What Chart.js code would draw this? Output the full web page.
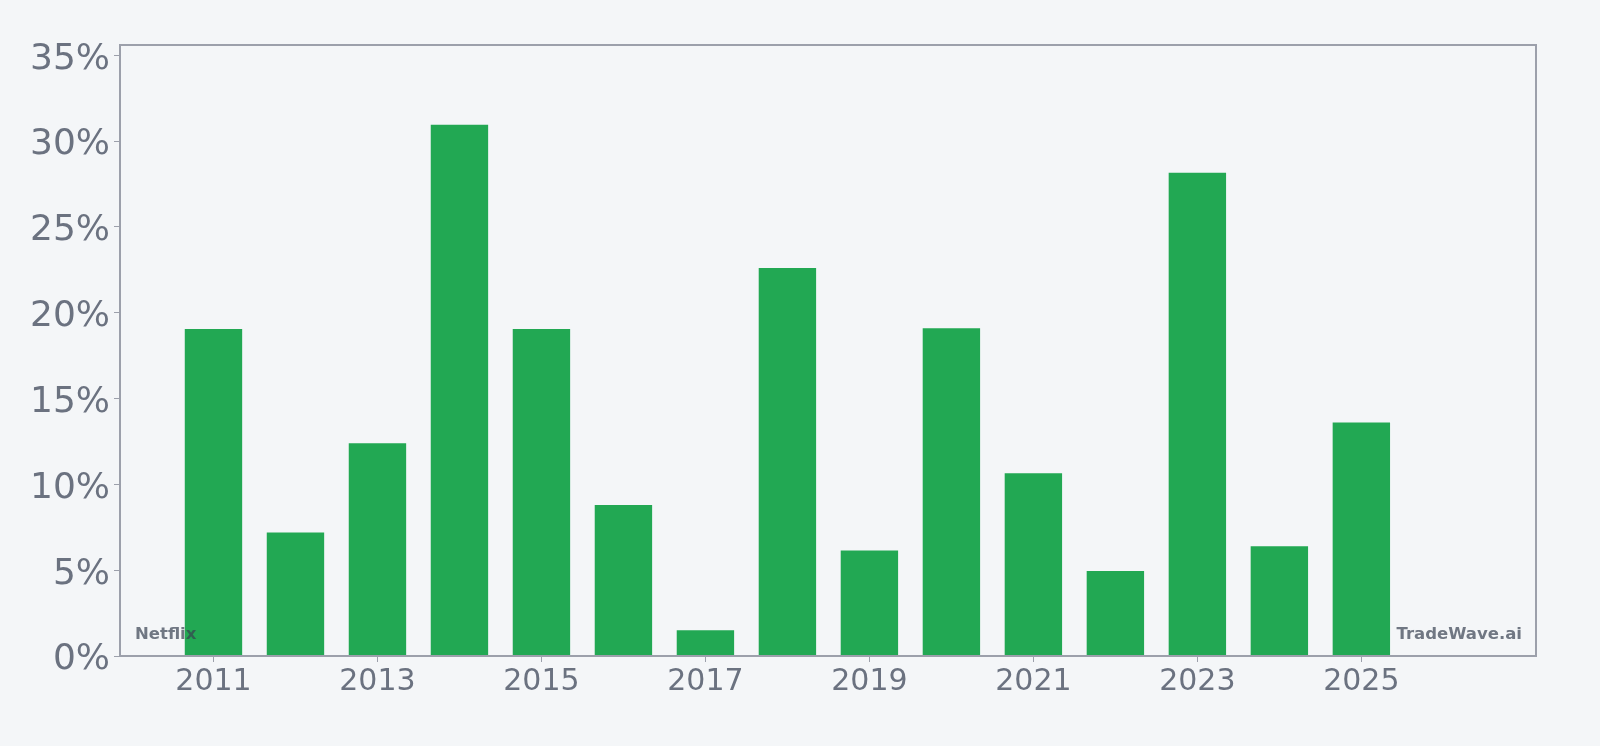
<!DOCTYPE html>
<html>
<head>
<meta charset="utf-8">
<script src="https://cdn.jsdelivr.net/npm/chart.js@4"></script>
<style>
html,body{margin:0;padding:0;background:#f4f6f8;}
#wrap{width:1600px;height:746px;position:relative;}
</style>
</head>
<body>
<div id="wrap"><canvas id="c" width="1600" height="746"></canvas></div>
<script>
const years = [2011,2012,2013,2014,2015,2016,2017,2018,2019,2020,2021,2022,2023,2024,2025];
const values = [19.05,7.2,12.4,30.95,19.05,8.8,1.5,22.6,6.15,19.1,10.65,4.95,28.15,6.4,13.6];
const xTickLabels = [2011,2013,2015,2017,2019,2021,2023,2025];
const yTickValues = [0,5,10,15,20,25,30,35];
const leftNote = "Netflix";
const rightNote = "TradeWave.ai";

const textColor = '#6b7280';
const frameColor = '#9ca0ab';

const framePlugin = {
  id: 'frame',
  afterDatasetsDraw(chart) {
    const {ctx, chartArea: a} = chart;
    ctx.save();
    ctx.fillStyle = 'rgba(55,65,81,0.7)';
    ctx.font = 'bold 16.5px "DejaVu Sans"';
    ctx.textBaseline = 'alphabetic';
    ctx.textAlign = 'left';
    ctx.fillText(leftNote, a.left + 15, a.bottom - 17);
    ctx.textAlign = 'right';
    ctx.fillText(rightNote, a.right - 14, a.bottom - 17);
    ctx.strokeStyle = frameColor;
    ctx.lineWidth = 2;
    ctx.strokeRect(a.left, a.top, a.right - a.left, a.bottom - a.top);
    ctx.restore();
  }
};

new Chart(document.getElementById('c'), {
  type: 'bar',
  data: {
    datasets: [{
      data: years.map((y, i) => ({x: y, y: values[i]})),
      backgroundColor: '#22a853',
      borderWidth: 0,
      barPercentage: 0.7,
      categoryPercentage: 1.0
    }]
  },
  options: {
    responsive: false,
    animation: false,
    layout: {padding: {left: 0, top: 45, right: 64, bottom: 0}},
    plugins: {legend: {display: false}, tooltip: {enabled: false}},
    scales: {
      x: {
        type: 'linear',
        offset: false,
        min: 2009.86,
        max: 2027.13,
        afterBuildTicks(s) { s.ticks = xTickLabels.map(v => ({value: v})); },
        afterFit(s) { s.height = 90; },
        grid: {display: true, offset: false, drawOnChartArea: false, tickLength: 6, color: frameColor},
        border: {display: true, color: frameColor, width: 2},
        ticks: {
          color: textColor,
          font: {family: '"DejaVu Sans"', size: 30},
          padding: 2,
          maxRotation: 0,
          autoSkip: false,
          callback: v => String(v)
        }
      },
      y: {
        min: 0,
        max: 35.6,
        afterBuildTicks(s) { s.ticks = yTickValues.map(v => ({value: v})); },
        afterFit(s) { s.width = 120; },
        grid: {display: true, offset: false, drawOnChartArea: false, tickLength: 6, color: frameColor},
        border: {display: true, color: frameColor, width: 2},
        ticks: {
          color: textColor,
          font: {family: '"DejaVu Sans"', size: 36},
          padding: 4,
          labelOffset: 4,
          callback: v => v + '%'
        }
      }
    }
  },
  plugins: [framePlugin]
});
</script>
</body>
</html>
